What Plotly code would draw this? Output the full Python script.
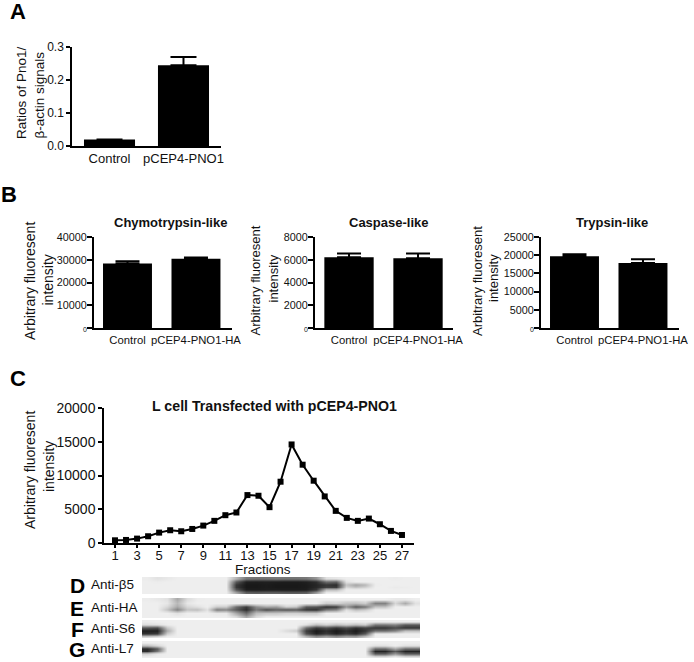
import plotly.graph_objects as go

W, H = 694, 662
FONT = "Liberation Sans, Arial, sans-serif"
INK = "#111111"

# ---- data ----
a_categories = ["Control", "pCEP4-PNO1"]
a_values = [0.02, 0.245]
a_errors = [0.0, 0.025]
a_ticks = [0.0, 0.1, 0.2, 0.3]
a_ticklabels = ["0.0", "0.1", "0.2", "0.3"]

b_categories = ["Control", "pCEP4-PNO1-HA"]
chymo_values = [28400, 30450]
chymo_errors = [900, 550]
chymo_ticks = [0, 10000, 20000, 30000, 40000]
caspase_values = [6215, 6130]
caspase_errors = [345, 430]
caspase_ticks = [0, 2000, 4000, 6000, 8000]
trypsin_values = [19700, 17850]
trypsin_errors = [550, 1020]
trypsin_ticks = [0, 5000, 10000, 15000, 20000, 25000]

fractions = list(range(1, 28))
fraction_values = [400, 450, 650, 1000, 1540, 1890, 1740, 2080, 2580, 3280, 4120, 4520,
                   7100, 7000, 5310, 9080, 14600, 11600, 9230, 6900, 4760, 3720, 3280,
                   3620, 2780, 1790, 1190]
fraction_ticks = list(range(1, 28, 2))
c_ticks = [0, 5000, 10000, 15000, 20000]

blot_d = [
    [236,226,232,238,238,238,238,238,238,180,120,115,115,120,115,115,120,150,225,230,238,238,238,238,238,236,238,238],
    [238,236,238,238,238,238,238,238,238, 90, 32, 30, 32, 30, 28, 28, 32, 45,110,100,225,238,238,238,238,238,238,238],
    [238,238,238,238,238,238,238,238,238, 55, 25, 25, 28, 25, 25, 25, 28, 38, 55, 45,195,165,185,236,238,238,238,238],
    [238,238,238,238,238,238,238,238,238, 55, 25, 25, 28, 25, 25, 25, 28, 40, 65, 60,215,195,210,238,238,234,236,238],
    [238,238,238,238,238,238,238,238,238, 85, 30, 28, 30, 30, 28, 28, 30, 55,190,190,238,238,238,238,238,238,238,238],
    [238,238,238,238,238,238,238,238,238,170,100, 95,100,100, 95, 95,100,160,238,238,238,238,238,238,238,238,238,238],
]
blot_e = [
    [236,232,225,170,220,236,238,238,238,238,238,238,238,238,238,238,238,238,238,238,238,238,238,238,238,232,232,238],
    [238,238,230,185,230,238,238,238,238,238,238,238,238,238,238,238,238,238,205,210,195,190,205,130,130,215,170,225],
    [238,238,215,170,215,225,238,205,205,110, 60,140,170,160,210,200, 90, 85, 50, 60,150, 90,120,195,195,238,238,238],
    [238,238,195,130,195,190,225,125,135, 90, 45,120, 75, 95, 85, 90, 55, 50,120,135,225,190,205,238,238,238,238,238],
    [238,238,238,225,238,238,238,232,232,170,110,190,200,200,210,210,205,205,238,238,238,238,238,238,238,238,238,238],
    [238,238,238,238,238,238,238,238,238,220,170,220,238,238,238,238,238,238,238,238,238,238,238,238,238,238,238,238],
]
blot_f = [
    [236,238,238,238,238,238,238,238,238,238,238,238,238,238,238,238,238,238,238,238,238,238,238,238,238,238,238,238],
    [220,225,236,238,238,238,238,238,238,238,238,238,238,238,238,238,225,190,210,190,205,190,205,120,120,130, 90, 90],
    [ 90, 80,200,238,238,238,238,238,238,238,238,238,238,238,238,238,110, 60, 80, 55, 80, 50, 70, 55, 55, 75, 55, 55],
    [ 30, 30,170,238,238,238,238,238,238,238,238,238,238,238,220,205, 60, 25, 45, 25, 45, 25, 50,110,110,130,190,190],
    [ 50, 60,205,238,238,238,238,238,238,238,238,238,238,238,238,238, 80, 35, 60, 35, 60, 40, 90,235,235,238,238,238],
    [215,225,238,238,238,238,238,238,238,238,238,238,238,238,238,238,190,150,170,150,170,165,200,238,238,238,238,238],
]
blot_g = [
    [238,238,238,238,238,238,238,238,238,238,238,238,238,238,238,238,238,238,238,238,238,238,238,238,238,238,238,238],
    [190,215,238,238,238,238,238,238,238,238,238,238,238,238,238,238,238,238,238,238,238,238,238,225,225,238,225,225],
    [ 40, 90,238,238,238,238,238,238,238,238,238,238,238,238,238,238,238,238,238,238,238,238,238,110,110,170,110,110],
    [ 45,120,238,238,238,238,238,238,238,238,238,238,238,238,238,238,238,238,238,238,238,238,238, 35, 35, 90, 35, 35],
    [210,232,238,238,238,238,238,238,238,238,238,238,238,238,238,238,238,238,238,238,238,238,238, 90, 90,150, 90, 90],
    [238,238,238,238,238,238,238,238,238,238,238,238,238,238,238,238,238,238,238,238,238,238,238,225,225,238,225,225],
]
blot_labels = ["Anti-β5", "Anti-HA", "Anti-S6", "Anti-L7"]
blot_letters = ["D", "E", "F", "G"]


def px_x(a, b):
    return [a / W, b / W]


def px_y(top, bottom):
    return [1 - bottom / H, 1 - top / H]


fig = go.Figure()
layout = {}
ann = []


def text(x, y, s, size, bold=False, angle=0, anchor="center", color=INK):
    ann.append(dict(x=x / W, y=1 - y / H, xref="paper", yref="paper", text=f"<b>{s}</b>" if bold else s,
                    showarrow=False, font=dict(size=size, color=color, family=FONT), textangle=angle,
                    xanchor=anchor, yanchor="middle", borderpad=0, borderwidth=0))


def bar_panel(idx, cats, vals, errs, ticks, ticktext, ymax, xdom, ydom, xrange, barw, capw, ticksize, catsize, lw, tlen, standoff):
    xa, ya = f"xaxis{idx}", f"yaxis{idx}"
    fig.add_trace(go.Bar(x=cats, y=vals, xaxis=f"x{idx}", yaxis=f"y{idx}", width=barw,
                         marker=dict(color="#000000", line=dict(width=0)),
                         error_y=dict(type="data", array=errs, arrayminus=[0, 0], symmetric=False,
                                      color="#000000", thickness=2, width=capw),
                         showlegend=False))
    layout[xa] = dict(domain=xdom, anchor=f"y{idx}", range=xrange, type="category", showgrid=False, zeroline=False,
                      showline=True, linecolor="#000", linewidth=lw, ticks="", ticklen=0, automargin=False,
                      tickfont=dict(size=catsize, color=INK, family=FONT))
    layout[ya] = dict(domain=ydom, anchor=f"x{idx}", range=[0, ymax], showgrid=False, zeroline=False, showline=True,
                      linecolor="#000", linewidth=lw, ticks="outside", ticklen=tlen, tickwidth=lw, tickcolor="#000",
                      tickmode="array", tickvals=ticks, ticktext=ticktext, automargin=False, ticklabelstandoff=standoff,
                      tickfont=dict(size=ticksize, color=INK, family=FONT))


small0 = '<span style="font-size:7px">0</span>'

bar_panel(1, a_categories, a_values, a_errors, a_ticks, a_ticklabels, 0.3,
          px_x(72, 221), px_y(47, 146), [-0.507, 1.507], 0.69, 13, 12, 13, 1.5, 4, 0)
bar_panel(2, b_categories, chymo_values, chymo_errors, chymo_ticks,
          [small0] + [str(t) for t in chymo_ticks[1:]], 40000,
          px_x(94, 232), px_y(237, 328), [-0.489, 1.526], 0.715, 12, 10.8, 11.3, 2, 5, -2)
bar_panel(3, b_categories, caspase_values, caspase_errors, caspase_ticks,
          [small0] + [str(t) for t in caspase_ticks[1:]], 8000,
          px_x(315, 453), px_y(237, 328), [-0.493, 1.507], 0.715, 12, 10.8, 11.3, 2, 5, -2)
bar_panel(4, b_categories, trypsin_values, trypsin_errors, trypsin_ticks,
          [small0] + [str(t) for t in trypsin_ticks[1:]], 25000,
          px_x(541, 679), px_y(237, 328), [-0.489, 1.526], 0.715, 12, 10.8, 11.3, 2, 5, -2)

# fractions line
fig.add_trace(go.Scatter(x=fractions, y=fraction_values, xaxis="x5", yaxis="y5", mode="lines+markers",
                         line=dict(color="#000", width=2), marker=dict(symbol="square", size=6, color="#000"),
                         showlegend=False))
layout["xaxis5"] = dict(domain=px_x(104, 414), anchor="y5", range=[0.004, 28.09], showgrid=False, zeroline=False,
                        showline=True, linecolor="#000", linewidth=1.5, ticks="outside", ticklen=3, tickwidth=1.5,
                        tickcolor="#000", tickmode="array", tickvals=fraction_ticks, automargin=False,
                        ticktext=[str(t) for t in fraction_ticks], tickangle=0, ticklabelstandoff=-3,
                        tickfont=dict(size=13, color=INK, family=FONT))
layout["yaxis5"] = dict(domain=px_y(408, 543), anchor="x5", range=[0, 20000], showgrid=False, zeroline=False,
                        showline=True, linecolor="#000", linewidth=1.5, ticks="outside", ticklen=4, tickwidth=1.5,
                        tickcolor="#000", tickmode="array", tickvals=c_ticks, ticktext=[str(t) for t in c_ticks],
                        automargin=False, tickfont=dict(size=14, color=INK, family=FONT))

# blots
blot_boxes = [(577, 594), (598, 618), (620, 638), (641, 658)]
for k, (z, (top, bottom)) in enumerate(zip([blot_d, blot_e, blot_f, blot_g], blot_boxes)):
    idx = 6 + k
    fig.add_trace(go.Heatmap(z=z, xaxis=f"x{idx}", yaxis=f"y{idx}", zmin=0, zmax=255, zsmooth="best",
                             colorscale=[[0, "#000000"], [1, "#ffffff"]], showscale=False, hoverinfo="skip"))
    layout[f"xaxis{idx}"] = dict(domain=px_x(142, 420), anchor=f"y{idx}", range=[-0.5, 27.5], visible=False, automargin=False)
    layout[f"yaxis{idx}"] = dict(domain=px_y(top, bottom), anchor=f"x{idx}", range=[5.5, -0.5], visible=False, automargin=False)
    mid = (top + bottom) / 2
    text(77, mid, blot_letters[k], 21, bold=True, color="#000")
    text(91, mid - 1, blot_labels[k], 13.5, anchor="left")

# panel letters
text(18, 12, "A", 22, bold=True, color="#000")
text(9, 194, "B", 22, bold=True, color="#000")
text(18, 379, "C", 22, bold=True, color="#000")

# panel A titles
text(21, 93, "Ratios of Pno1/", 13.5, angle=-90)
text(39, 95.5, "β-actin signals", 13.5, angle=-90)

# panel B titles
text(170, 222, "Chymotrypsin-like", 13, bold=True)
text(389, 222, "Caspase-like", 13, bold=True)
text(612, 222, "Trypsin-like", 13, bold=True)
for x0, x1, yc, yc2, size in [(30, 47, 281, 279.5, 14), (255, 273, 280.5, 278.5, 13), (477, 494, 281, 278, 13)]:
    text(x0, yc, "Arbitrary fluoresent", size, angle=-90)
    text(x1, yc2, "intensity", size, angle=-90)

# panel C titles
text(274, 406, "L cell Transfected with pCEP4-PNO1", 14.2, bold=True)
text(30, 470, "Arbitrary fluoresent", 14, angle=-90)
text(49, 467, "intensity", 14, angle=-90)
text(263, 569, "Fractions", 13.5)

fig.update_layout(width=W, height=H, autosize=False, margin=dict(l=0, r=0, t=0, b=0),
                  paper_bgcolor="white", plot_bgcolor="rgba(0,0,0,0)", template="none",
                  annotations=ann, showlegend=False, **layout)
fig.write_html("out.html", config={"displayModeBar": False},
               post_script="document.body.style.margin='0';")
